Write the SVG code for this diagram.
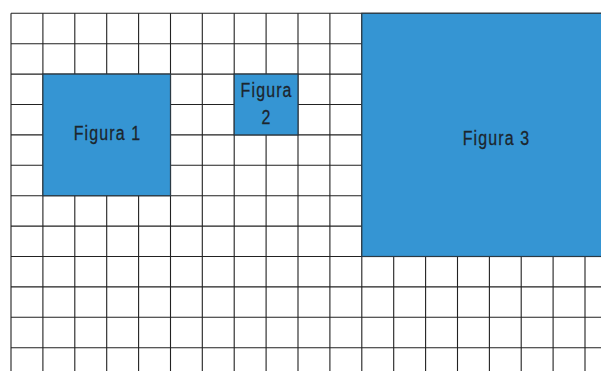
<svg xmlns="http://www.w3.org/2000/svg" width="601" height="371" viewBox="0 0 601 371">
<style>
.g{stroke:#222222;stroke-width:1.1;fill:none}
.fig{fill:#3595d3;stroke:#2b3a45;stroke-width:1.2}
.t{font-family:"Liberation Sans",Arial,sans-serif;font-size:21px;fill:#1c252d;stroke:#1c252d;stroke-width:0.3;text-anchor:middle;letter-spacing:1.5px}
</style>
<rect width="601" height="371" fill="#ffffff"/>
<g id="grid" class="g">
<path d="M11,13.3V371 M42.9,13.3V371 M74.8,13.3V371 M106.7,13.3V371 M138.6,13.3V371 M170.5,13.3V371 M202.3,13.3V371 M234.2,13.3V371 M266.1,13.3V371 M298,13.3V371 M329.9,13.3V371 M361.8,13.3V371 M393.7,13.3V371 M425.6,13.3V371 M457.5,13.3V371 M489.4,13.3V371 M521.2,13.3V371 M553.1,13.3V371 M585,13.3V371"/>
<path d="M11,13.3H601 M11,43.7H601 M11,74.1H601 M11,104.5H601 M11,134.9H601 M11,165.3H601 M11,195.7H601 M11,226.1H601 M11,256.5H601 M11,286.9H601 M11,317.3H601 M11,347.7H601"/>
</g>
<g id="figura1">
<rect class="fig" x="42.9" y="74.1" width="127.6" height="121.6"/>
<text class="t" transform="translate(107.5,140) scale(0.76,1)">Figura 1</text>
</g>
<g id="figura2">
<rect class="fig" x="234.2" y="74.1" width="63.8" height="60.8"/>
<text class="t" transform="translate(266.6,97) scale(0.76,1)">Figura</text>
<text class="t" transform="translate(266.6,124) scale(0.76,1)">2</text>
</g>
<g id="figura3">
<rect class="fig" x="361.8" y="13.3" width="245" height="243.2"/>
<text class="t" transform="translate(496.5,145) scale(0.76,1)">Figura 3</text>
</g>
</svg>
